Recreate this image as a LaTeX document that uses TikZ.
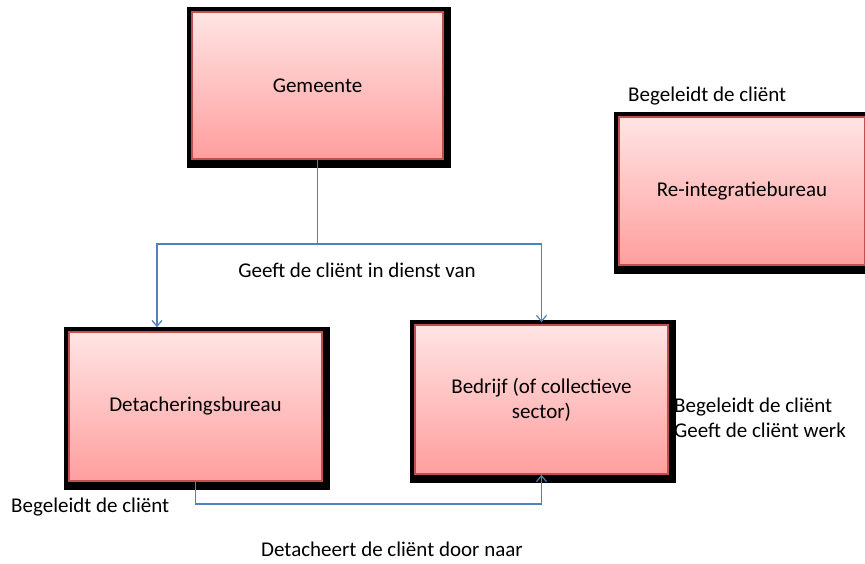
\documentclass[tikz,border=0pt]{standalone}
\usepackage{fontspec}
\setmainfont{Carlito}
\usetikzlibrary{arrows.meta,backgrounds}
\definecolor{boxline}{RGB}{192,80,77}
\definecolor{boxtop}{RGB}{255,228,228}
\definecolor{boxbot}{RGB}{255,158,158}
\definecolor{conn}{RGB}{79,129,189}
\tikzset{
  box/.style={draw=boxline, line width=1.5pt, top color=boxtop, bottom color=boxbot,
    inner sep=0pt, align=center, font=\fontsize{21}{25}\selectfont},
  lbl/.style={inner sep=0pt, font=\fontsize{21}{25}\selectfont},
  connline/.style={draw=conn, line width=1.5pt},
  tip/.style={-{Straight Barb[length=6pt,width=10pt,line width=1.2pt]}}
}
\newcommand{\blackframe}[1]{\fill[black] ([xshift=-4.5pt,yshift=4.5pt]#1.north west) rectangle ([xshift=7pt,yshift=-8pt]#1.south east);}
\begin{document}
\begin{tikzpicture}[x=1pt,y=-1pt]
\clip (0,0) rectangle (865,563);
\node[box, minimum width=251pt, minimum height=147pt] (gem) at (317.5,85.5) {Gemeente};
\node[box, minimum width=246pt, minimum height=148pt] (reint) at (742,191) {Re-integratiebureau};
\node[box, minimum width=253pt, minimum height=149pt] (det) at (195.5,406.5) {Detacheringsbureau};
\node[box, minimum width=253pt, minimum height=149pt] (bed) at (541.5,399.5) {Bedrijf (of collectieve\\sector)};
\begin{scope}[on background layer]
\fill[white] (0,0) rectangle (865,563);
\blackframe{gem}
\blackframe{reint}
\blackframe{det}
\blackframe{bed}
\end{scope}
\node[lbl, anchor=west] (lreint) at (628,96) {Begeleidt de cliënt};
\node[lbl] (ldienst) at (357,270) {Geeft de cliënt in dienst van};
\node[lbl, anchor=west, align=left] (lbed) at (674,417.5) {Begeleidt de cliënt\\Geeft de cliënt werk};
\node[lbl, anchor=west] (ldet) at (11,507) {Begeleidt de cliënt};
\node[lbl] (ldoor) at (392,549) {Detacheert de cliënt door naar};
\draw[connline, tip] (gem.south) -- ++(0,84) -| ([xshift=-38.5pt,yshift=4pt]det.north);
\draw[connline, tip] (gem.south) -- ++(0,84) -| ([yshift=2pt]bed.north);
\draw[connline, tip] (det.south) -- ++(0,22) -| (bed.south);
\end{tikzpicture}
\end{document}
